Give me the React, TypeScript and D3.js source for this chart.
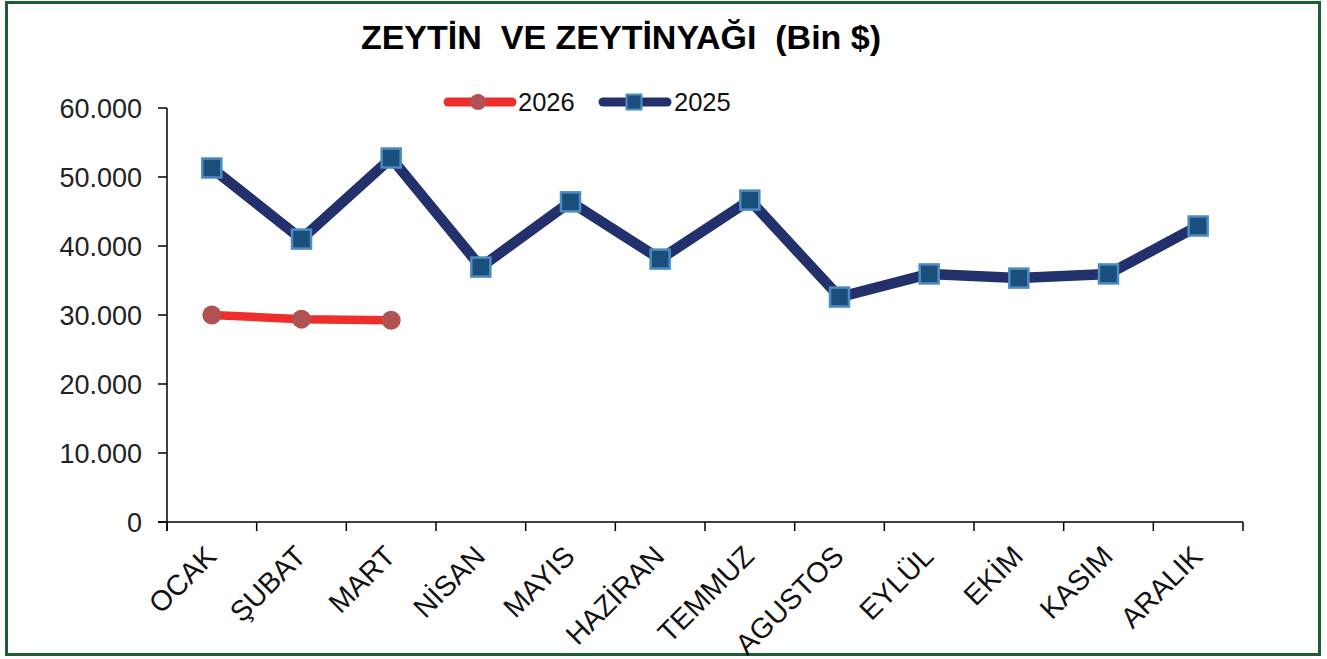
import React from "react";
import * as d3 from "d3";

const TITLE = "ZEYTİN  VE ZEYTİNYAĞI  (Bin $)";
const months = ["OCAK", "ŞUBAT", "MART", "NİSAN", "MAYIS", "HAZİRAN", "TEMMUZ", "AGUSTOS", "EYLÜL", "EKİM", "KASIM", "ARALIK"];
const series2026 = [30000, 29400, 29250];
const series2025 = [51300, 41000, 52750, 36950, 46400, 38100, 46650, 32600, 35950, 35350, 35950, 42900];
const yTicks = [0, 10000, 20000, 30000, 40000, 50000, 60000];
const legendLabels = ["2026", "2025"];

const W = 1327;
const H = 659;
const FONT = "'Liberation Sans', Arial, sans-serif";

const locale = d3.formatLocale({ decimal: ",", thousands: ".", grouping: [3], currency: ["", ""] });
const fmt = locale.format(",.0f");

export default function App() {
  const x = d3.scaleBand<string>().domain(months).range([167, 1243]).paddingInner(0).paddingOuter(0);
  const y = d3.scaleLinear().domain([0, 60000]).range([522, 108]);
  const cx = (m: string) => (x(m) as number) + x.bandwidth() / 2;

  const line = d3
    .line<number>()
    .x((_, i) => cx(months[i]))
    .y((d) => y(d));

  const red = "#ee2e2a";
  const redMarker = "#b05252";
  const navy = "#22306b";
  const sqFill = "#1b4f7b";
  const sqStroke = "#4d8bc4";
  const MS = 19;

  const boundaries = [...months.map((m) => x(m) as number), 1243];

  return (
    <svg width={W} height={H} style={{ position: "absolute", left: 0, top: 0, background: "#fff" }} fontFamily={FONT}>
      <rect x={6.5} y={2.5} width={1313} height={652} fill="#fff" stroke="#1b5e34" strokeWidth={3} />
      <text x={621} y={49} textAnchor="middle" fontSize={34} fontWeight="bold" fill="#000" style={{ whiteSpace: "pre" }}>
        {TITLE}
      </text>

      {/* legend */}
      <g>
        <line x1={448} x2={512} y1={102} y2={102} stroke={red} strokeWidth={9} strokeLinecap="round" />
        <circle cx={478} cy={102} r={8} fill={redMarker} />
        <text x={518} y={111} fontSize={25.5} fill="#111">{legendLabels[0]}</text>
        <line x1={603} x2={667} y1={102} y2={102} stroke={navy} strokeWidth={9} strokeLinecap="round" />
        <rect x={634 - 7.5} y={102 - 7.5} width={15} height={15} fill={sqFill} stroke={sqStroke} strokeWidth={2} />
        <text x={674} y={111} fontSize={25.5} fill="#111">{legendLabels[1]}</text>
      </g>

      {/* y axis */}
      <line x1={167} x2={167} y1={108} y2={531} stroke="#000" strokeWidth={1.5} />
      {yTicks.map((t) => (
        <g key={t}>
          <line x1={158} x2={167} y1={y(t)} y2={y(t)} stroke="#000" strokeWidth={1.5} />
          <text x={142} y={y(t) + 9.5} textAnchor="end" fontSize={27} fill="#222">
            {fmt(t)}
          </text>
        </g>
      ))}

      {/* x axis */}
      <line x1={158} x2={1243} y1={522} y2={522} stroke="#000" strokeWidth={1.5} />
      {boundaries.map((b, i) => (
        <line key={i} x1={b} x2={b} y1={522} y2={531} stroke="#000" strokeWidth={1.5} />
      ))}
      {months.map((m) => (
        <text
          key={m}
          transform={`translate(${cx(m) + 6},${558}) rotate(-45)`}
          textAnchor="end"
          fontSize={28.5}
          fill="#111"
        >
          {m}
        </text>
      ))}

      {/* 2025 series */}
      <path d={line(series2025) as string} fill="none" stroke={navy} strokeWidth={10.5} strokeLinejoin="round" />
      {series2025.map((v, i) => (
        <rect
          key={i}
          x={cx(months[i]) - MS / 2}
          y={y(v) - MS / 2}
          width={MS}
          height={MS}
          fill={sqFill}
          stroke={sqStroke}
          strokeWidth={2.5}
        />
      ))}

      {/* 2026 series */}
      <path d={line(series2026) as string} fill="none" stroke={red} strokeWidth={8.5} strokeLinejoin="round" />
      {series2026.map((v, i) => (
        <circle key={i} cx={cx(months[i])} cy={y(v)} r={9.5} fill={redMarker} />
      ))}
    </svg>
  );
}
